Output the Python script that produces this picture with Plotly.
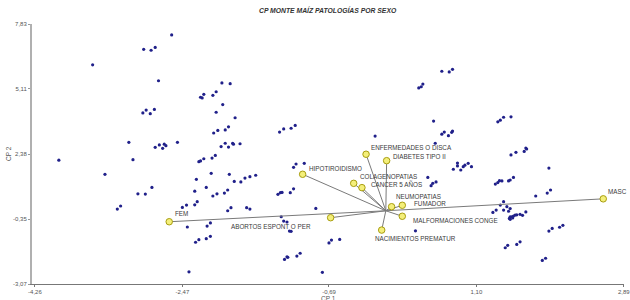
import plotly.graph_objects as go

obs_cp1 = [-2.60, -2.94, -2.85, -2.80, -3.56, -2.76, -1.99, -1.89, -2.25, -2.23,
           -2.21, -2.10, -2.06, -1.98, -2.91, -2.95, -2.86, -2.81, -2.06, -1.83,
           -1.91, -1.95, -2.04, -2.09, -3.12, -2.75, -2.80, -2.69, -2.67, -2.71,
           -2.53, -2.00, -1.95, -1.91, -1.86, -1.85, -2.07,
           0.40, 0.43, 0.45, 0.58, -1.29, -1.24, -1.15, -1.10, -1.77, -0.13,
           0.68, 0.77, 0.81, 1.36, 1.39, 1.43, 1.52, 0.68, 0.71, 0.76, 0.80, 0.81,
           0.60, 1.70, 1.71,
           -3.97, -3.07, -3.41, -2.84, -3.01, -2.92, -3.22, -3.26, -2.27, -2.25,
           -2.21, -2.11, -2.30, -2.12, -1.90, -1.84, -2.18, -2.32, -2.10, -2.05,
           -1.96, -1.92, -2.29, -2.32, -2.42, -2.47, -1.88, -1.92, -2.41, -2.17,
           -2.13, -2.31, -2.27, -2.18, -2.13, -2.39,
           -1.76, -1.71, -1.65, -1.58, -1.12, -1.09, -0.99, -1.31, -1.28, -1.26,
           -1.16, -1.12, -1.69, -1.65, -1.27, -1.24, -1.20, -1.17, -1.15, -0.85,
           -0.66, -0.69, -0.56, -1.23, -1.20, -1.19, -1.08, -1.04, -0.77, 0.51,
           0.55, 0.57, 0.61, 0.36,
           1.52, 1.58, 1.68, 0.82, 0.87, 0.87, 0.91, 0.94, 0.96, 1.00, 1.04, 1.98,
           1.33, 1.36, 1.38, 1.41, 1.49, 1.51, 1.55, 2.00, 1.96, 1.82, 1.43, 1.39,
           1.47, 1.51, 1.43, 1.49, 1.34, 1.30, 1.70, 1.50, 1.51, 1.53, 1.55, 1.57,
           1.59, 1.63, 1.66, 1.51, 1.54, 1.98, 2.02, 2.11, 2.15, 1.45, 1.48, 1.59,
           1.63, 1.90, 1.94]
obs_cp2 = [7.37, 6.77, 6.73, 6.85, 6.12, 5.45, 5.36, 5.33, 4.76, 4.73,
           4.88, 4.84, 4.99, 4.45, 4.22, 4.10, 4.07, 4.25, 4.13, 3.90,
           3.52, 3.39, 3.37, 3.26, 2.87, 2.76, 2.66, 2.79, 2.73, 2.62,
           2.87, 2.69, 2.83, 2.67, 2.83, 2.79, 2.32,
           5.15, 5.20, 5.31, 3.76, 3.30, 3.43, 3.46, 3.58, 2.81, 3.13,
           5.85, 5.82, 5.93, 3.73, 3.80, 3.92, 3.94, 3.21, 3.30, 3.15, 3.29, 3.34,
           2.83, 2.63, 2.59,
           2.12, 2.14, 1.53, 0.98, 0.71, 0.70, 0.20, 0.07, 2.06, 2.09,
           2.18, 2.21, 1.32, 1.57, 1.53, 1.23, 0.98, 0.82, 0.62, 0.71,
           0.74, 0.87, 0.38, 0.25, 0.24, 0.14, 0.13, 0.00, -0.68, -0.64,
           -0.51, -1.32, -1.21, -1.17, -1.07, -2.56,
           1.21, 1.37, 1.43, 1.49, 1.82, 1.96, 1.99, 0.69, 0.76, 0.77,
           0.76, 0.92, 0.13, 0.07, -0.25, -0.43, -0.47, -0.85, -0.86, 0.10,
           -1.23, -1.35, -1.20, -2.04, -1.93, -1.95, -1.90, -1.78, -2.58, 1.40,
           1.05, 1.15, 1.21, -0.84,
           2.34, 2.45, 2.49, 1.74, 1.88, 2.00, 1.71, 1.85, 1.91, 1.99, 1.85, 1.79,
           1.12, 1.18, 1.26, 1.25, 1.25, 1.29, 1.40, 0.87, 0.74, 0.62, 0.38, 0.24,
           0.17, 0.09, 0.03, -0.02, 0.03, -0.07, -0.05, -0.32, -0.36, -0.25, -0.22, -0.18,
           -0.17, -0.15, -0.19, -0.25, -0.30, -0.85, -0.74, -0.69, -0.61, -1.55, -1.45, -1.41,
           -1.30, -2.08, -1.99]

# Variable vectors (CP1, CP2)
var_names = ["FEM", "MASC", "ABORTOS ESPONT O PER", "HIPOTIROIDISMO",
             "ENFERMEDADES O DISCA", "DIABETES TIPO II", "COLAGENOPATIAS",
             "CANCER 5 AÑOS", "NEUMOPATIAS", "FUMADOR",
             "MALFORMACIONES CONGE", "NACIMIENTOS PREMATUR"]
var_cp1 = [-2.63, 2.64, -0.67, -1.01, -0.24, 0.01, -0.39, -0.29, 0.07, 0.20, 0.20, -0.05]
var_cp2 = [-0.46, 0.50, -0.29, 1.53, 2.37, 2.10, 1.15, 0.97, 0.17, 0.23, -0.23, -0.81]

# Axis ticks
x_ticks = [-4.26, -2.47, -0.69, 1.10, 2.89]
x_tick_text = ["-4,26", "-2,47", "-0,69", "1,10", "2,89"]
y_ticks = [-3.07, -0.35, 2.38, 5.11, 7.83]
y_tick_text = ["-3,07", "-0,35", "2,38", "5,11", "7,83"]

title_text = "CP MONTE MAÍZ PATOLOGÍAS POR SEXO"

# label placement styles: (xanchor, xshift, yshift)
label_style = {
    "FEM": ("left", 4, 8),
    "MASC": ("left", 3, 7),
    "ABORTOS ESPONT O PER": ("right", -18, -9),
    "HIPOTIROIDISMO": ("left", 4, 6),
    "ENFERMEDADES O DISCA": ("left", 3, 7),
    "DIABETES TIPO II": ("left", 4, 4),
    "COLAGENOPATIAS": ("left", 4, 7),
    "CANCER 5 AÑOS": ("left", 7, 4),
    "NEUMOPATIAS": ("left", 2, 10),
    "FUMADOR": ("left", 10, 2),
    "MALFORMACIONES CONGE": ("left", 9, -4),
    "NACIMIENTOS PREMATUR": ("left", -9, -8),
}

FONT = "Liberation Sans, Arial, sans-serif"
fig = go.Figure()

fig.add_trace(go.Scatter(
    x=obs_cp1, y=obs_cp2, mode="markers",
    marker=dict(size=3.2, color="#20208a"),
    hoverinfo="skip", showlegend=False))

# vector lines from origin
for vx, vy in zip(var_cp1, var_cp2):
    fig.add_trace(go.Scatter(
        x=[0, vx], y=[0, vy], mode="lines",
        line=dict(color="#7a7a7a", width=1),
        hoverinfo="skip", showlegend=False))

fig.add_trace(go.Scatter(
    x=var_cp1, y=var_cp2, mode="markers",
    marker=dict(size=6.5, color="#f4ef7a", line=dict(color="#a89d10", width=1)),
    hoverinfo="skip", showlegend=False))

annotations = []
for name, vx, vy in zip(var_names, var_cp1, var_cp2):
    xa, xs, ys = label_style[name]
    annotations.append(dict(
        x=vx, y=vy, xref="x", yref="y", text=name, showarrow=False,
        xanchor=xa, yanchor="middle", xshift=xs, yshift=ys,
        font=dict(family=FONT, size=6.3, color="#3a3a3a")))

annotations.append(dict(
    x=0.5, y=1, xref="paper", yref="paper", text="<b><i>" + title_text + "</i></b>",
    showarrow=False, xanchor="center", yanchor="middle", yshift=14,
    font=dict(family=FONT, size=6.8, color="#333333")))
annotations.append(dict(
    x=0, y=0.5, xref="paper", yref="paper", text="CP 2", textangle=-90,
    showarrow=False, xanchor="center", yanchor="middle", xshift=-24,
    font=dict(family=FONT, size=6.5, color="#555555")))
annotations.append(dict(
    x=0.5, y=0, xref="paper", yref="paper", text="CP 1",
    showarrow=False, xanchor="center", yanchor="middle", yshift=-14,
    font=dict(family=FONT, size=6.5, color="#555555")))

fig.update_layout(
    width=630, height=300,
    margin=dict(l=32, r=6, t=24, b=16, autoexpand=False),
    paper_bgcolor="white", plot_bgcolor="white",
    annotations=annotations,
    showlegend=False,
)
fig.update_xaxes(
    range=[-4.296, 2.892], tickvals=x_ticks, ticktext=x_tick_text, automargin=False,
    ticklabeloverflow="allow",
    showgrid=False, zeroline=False, showline=True, linecolor="#777777", linewidth=1,
    ticks="outside", ticklen=2, tickcolor="#777777",
    tickfont=dict(family=FONT, size=6, color="#555555"))
fig.update_yaxes(
    range=[-3.07, 7.83], tickvals=y_ticks, ticktext=y_tick_text, automargin=False,
    ticklabeloverflow="allow",
    showgrid=False, zeroline=False, showline=True, linecolor="#b0b0b0", linewidth=2,
    ticks="outside", ticklen=2, tickcolor="#999999",
    tickfont=dict(family=FONT, size=6, color="#555555"))

fig.write_html(
    "out.html",
    config={"displayModeBar": False},
    post_script="document.body.style.margin='0';document.body.style.overflow='hidden';",
)
